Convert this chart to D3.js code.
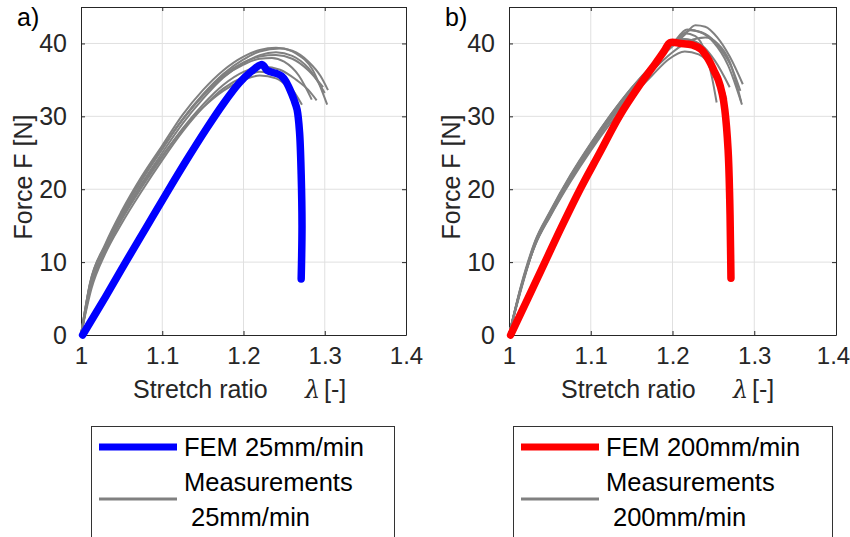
<!DOCTYPE html>
<html>
<head>
<meta charset="utf-8">
<script src="https://d3js.org/d3.v7.min.js"></script>
<style>
  body { margin: 0; background: #fff; }
  svg { display: block; font-family: "Liberation Sans", Arial, sans-serif; }
</style>
</head>
<body>
<div id="chart"></div>
<script>
// tick values shared by both panels
const xTicks = [1, 1.1, 1.2, 1.3, 1.4];
const yTicks = [0, 10, 20, 30, 40];

// FEM simulation, 25 mm/min  [stretch ratio, force N]
const fem25 = [
  [1.002, 0], [1.03, 5.2], [1.055, 10], [1.08, 14.7], [1.105, 19.4], [1.13, 24.0],
  [1.155, 28.4], [1.175, 31.7], [1.195, 34.6], [1.21, 36.2], [1.223, 37.1], [1.229, 36.3],
  [1.24, 35.9], [1.247, 35.5], [1.252, 34.8], [1.257, 33.7], [1.262, 32.3], [1.266, 30.9],
  [1.269, 27.8], [1.271, 22.0], [1.272, 15.0], [1.271, 7.7]
];

// measurements, 25 mm/min
const meas25 = [
  [[1, 0], [1.011, 7], [1.03, 12.5], [1.05, 17], [1.075, 21.8], [1.10, 26], [1.125, 30.2], [1.15, 33.6], [1.175, 36.3], [1.20, 38.2], [1.22, 39.1], [1.24, 39.4], [1.26, 39.0], [1.28, 37.5], [1.295, 35.5], [1.304, 33.6]],
  [[1, 0], [1.012, 6.8], [1.03, 12.0], [1.05, 16.5], [1.075, 21.3], [1.10, 25.5], [1.125, 29.6], [1.15, 33.0], [1.175, 35.8], [1.20, 37.8], [1.22, 38.9], [1.245, 39.3], [1.265, 38.6], [1.285, 36.4], [1.303, 31.6]],
  [[1, 0], [1.012, 6.5], [1.03, 11.6], [1.05, 16.0], [1.075, 20.8], [1.10, 25.0], [1.125, 29.0], [1.15, 32.4], [1.175, 35.3], [1.20, 37.3], [1.22, 38.4], [1.24, 38.8], [1.26, 38.3], [1.28, 36.6], [1.30, 33.2]],
  [[1, 0], [1.011, 6.9], [1.03, 12.1], [1.05, 16.6], [1.075, 21.3], [1.10, 25.6], [1.125, 29.5], [1.15, 32.8], [1.175, 35.4], [1.20, 37.1], [1.22, 37.9], [1.235, 38.0], [1.25, 37.5], [1.268, 35.6], [1.284, 32.3]],
  [[1, 0], [1.012, 6.6], [1.03, 11.5], [1.05, 15.8], [1.075, 20.3], [1.10, 24.4], [1.125, 28.3], [1.15, 31.6], [1.175, 34.3], [1.20, 36.1], [1.225, 36.8], [1.245, 36.4], [1.265, 35.0], [1.28, 33.6], [1.29, 32.2]],
  [[1, 0], [1.013, 6.4], [1.03, 11.2], [1.05, 15.3], [1.075, 19.8], [1.10, 24.0], [1.125, 27.9], [1.15, 31.2], [1.175, 33.8], [1.20, 35.4], [1.22, 36.1], [1.24, 35.7], [1.258, 34.0], [1.272, 31.6]],
  [[1, 0], [1.012, 6.7], [1.03, 11.8], [1.05, 16.2], [1.075, 20.7], [1.10, 24.6], [1.125, 28.2], [1.15, 31.2], [1.175, 33.5], [1.20, 35.0], [1.22, 35.6], [1.24, 35.2], [1.255, 33.9], [1.265, 32.4]],
  [[1, 0], [1.011, 7.1], [1.03, 12.3], [1.05, 16.7], [1.075, 21.5], [1.10, 25.7], [1.125, 29.6], [1.15, 32.9], [1.175, 35.6], [1.20, 37.4], [1.22, 38.2], [1.24, 38.4], [1.26, 37.9], [1.28, 36.3], [1.298, 34.0]]
];

// FEM simulation, 200 mm/min
const fem200 = [
  [1.002, 0], [1.023, 5], [1.044, 10], [1.065, 15], [1.087, 20], [1.111, 25], [1.135, 30],
  [1.16, 34.3], [1.18, 37.4], [1.19, 39.0], [1.197, 40.1], [1.21, 40.0], [1.224, 39.8],
  [1.235, 39.2], [1.244, 37.8], [1.251, 36.2], [1.256, 35.0], [1.261, 33.0], [1.264, 30.9],
  [1.268, 25.4], [1.270, 18.6], [1.271, 12.0], [1.2715, 7.8]
];

// measurements, 200 mm/min
const meas200 = [
  [[1, 0], [1.016, 7], [1.032, 12.8], [1.05, 16.8], [1.075, 21.8], [1.10, 26.2], [1.125, 30.3], [1.15, 33.9], [1.175, 37.0], [1.20, 39.6], [1.215, 41.2], [1.228, 42.5], [1.24, 42.3], [1.255, 40.8], [1.27, 38.2], [1.286, 34.4]],
  [[1, 0], [1.015, 6.8], [1.032, 12.6], [1.05, 16.5], [1.075, 21.4], [1.10, 25.8], [1.125, 29.9], [1.15, 33.5], [1.175, 36.7], [1.20, 39.9], [1.218, 41.9], [1.235, 41.5], [1.25, 40.2], [1.268, 37.0], [1.285, 31.6]],
  [[1, 0], [1.015, 6.9], [1.032, 12.9], [1.05, 16.9], [1.075, 21.9], [1.10, 26.3], [1.125, 30.3], [1.15, 33.9], [1.175, 37.0], [1.20, 40.0], [1.215, 41.4], [1.228, 41.0], [1.24, 38.8], [1.248, 35.5], [1.254, 31.9]],
  [[1, 0], [1.015, 6.5], [1.032, 12.4], [1.05, 16.3], [1.075, 21.2], [1.10, 25.6], [1.125, 29.6], [1.15, 33.1], [1.175, 36.2], [1.20, 38.8], [1.22, 40.3], [1.24, 40.8], [1.255, 40.0], [1.27, 37.5], [1.284, 32.0]],
  [[1, 0], [1.016, 6.7], [1.032, 12.5], [1.05, 16.5], [1.075, 21.5], [1.10, 26.0], [1.125, 30.0], [1.15, 33.6], [1.175, 36.7], [1.195, 39.4], [1.21, 40.6], [1.228, 40.2], [1.245, 38.0], [1.258, 35.0], [1.266, 32.3]],
  [[1, 0], [1.015, 6.6], [1.032, 12.3], [1.05, 16.2], [1.075, 21.0], [1.10, 25.3], [1.125, 29.2], [1.15, 32.7], [1.175, 35.6], [1.195, 37.8], [1.215, 38.9], [1.232, 38.5], [1.248, 36.6], [1.26, 33.2]],
  [[1, 0], [1.016, 6.9], [1.032, 12.7], [1.05, 16.7], [1.075, 21.7], [1.10, 26.1], [1.125, 30.1], [1.15, 33.7], [1.175, 36.9], [1.20, 39.8], [1.222, 41.8], [1.24, 41.3], [1.258, 39.4], [1.272, 36.8], [1.283, 33.5]],
  [[1, 0], [1.015, 6.6], [1.032, 12.4], [1.05, 16.4], [1.075, 21.3], [1.10, 25.7], [1.125, 29.8], [1.15, 33.4], [1.175, 36.6], [1.20, 40.2], [1.215, 40.6], [1.235, 39.8], [1.252, 37.6], [1.27, 34.0]]
];

const panels = [
  { tag: "a)", fem: fem25, meas: meas25, color: "#0000ff", femLabel: "FEM 25mm/min", measLabel: "25mm/min",
    left: 81, right: 406, legLeft: 91, legRight: 394 },
  { tag: "b)", fem: fem200, meas: meas200, color: "#ff0000", femLabel: "FEM 200mm/min", measLabel: "200mm/min",
    left: 509, right: 836, legLeft: 513, legRight: 832 }
];

const W = 850, H = 537;
const plotTop = 7, plotBottom = 335;
const axisColor = "#262626";
const fontSize = 25;

const svg = d3.select("#chart").append("svg")
  .attr("width", W)
  .attr("height", H);

panels.forEach(p => {
  const x = d3.scaleLinear().domain([1, 1.4]).range([p.left, p.right]);
  const y = d3.scaleLinear().domain([0, 45]).range([plotBottom, plotTop]);
  const g = svg.append("g");

  // grid
  g.append("g").selectAll("line").data(xTicks.slice(1, -1)).join("line")
    .attr("x1", d => x(d)).attr("x2", d => x(d))
    .attr("y1", plotTop).attr("y2", plotBottom)
    .attr("stroke", "#e0e0e0").attr("stroke-width", 1);
  g.append("g").selectAll("line").data(yTicks.slice(1)).join("line")
    .attr("x1", p.left).attr("x2", p.right)
    .attr("y1", d => y(d)).attr("y2", d => y(d))
    .attr("stroke", "#e0e0e0").attr("stroke-width", 1);

  // axes with inward ticks, box on all four sides
  const axes = [
    { a: d3.axisBottom(x).tickValues(xTicks).tickFormat(d3.format("")).tickSizeInner(-4).tickSizeOuter(0).tickPadding(12), t: `translate(0,${plotBottom})`, labels: true, fs: 24 },
    { a: d3.axisTop(x).tickValues(xTicks).tickSizeInner(-4).tickSizeOuter(0), t: `translate(0,${plotTop})`, labels: false },
    { a: d3.axisLeft(y).tickValues(yTicks).tickSizeInner(-4).tickSizeOuter(0).tickPadding(14), t: `translate(${p.left},0)`, labels: true, fs: 25 },
    { a: d3.axisRight(y).tickValues(yTicks).tickSizeInner(-4).tickSizeOuter(0), t: `translate(${p.right},0)`, labels: false }
  ];
  axes.forEach(ax => {
    const ag = g.append("g").attr("transform", ax.t).call(ax.a);
    ag.select(".domain").attr("stroke", axisColor);
    ag.selectAll(".tick line").attr("stroke", axisColor);
    if (!ax.labels) { ag.selectAll("text").remove(); return; }
    ag.selectAll("text")
      .attr("fill", axisColor)
      .style("font-size", ax.fs + "px")
      .style("font-family", "'Liberation Sans', Arial, sans-serif");
  });
  // keep the last x label inside the page
  if (p.right > W - 20) {
    g.selectAll(".tick text").filter(d => d === 1.4).attr("dx", -3);
  }

  // data
  const line = d3.line().x(d => x(d[0])).y(d => y(d[1]));
  g.append("g").selectAll("path").data(p.meas).join("path")
    .attr("d", line.curve(d3.curveMonotoneX))
    .attr("fill", "none")
    .attr("stroke", "#808080")
    .attr("stroke-width", 2);
  g.append("path")
    .attr("d", d3.line().x(d => x(d[0])).y(d => y(d[1])).curve(d3.curveCatmullRom.alpha(0.5))(p.fem))
    .attr("fill", "none")
    .attr("stroke", p.color)
    .attr("stroke-width", 7.5)
    .attr("stroke-linejoin", "round")
    .attr("stroke-linecap", "round");

  // panel tag
  g.append("text")
    .attr("x", p.left - 64).attr("y", 26)
    .style("font-size", fontSize + "px")
    .attr("fill", "#000")
    .text(p.tag);

  // axis labels
  const xl = g.append("text")
    .attr("y", 398)
    .style("font-size", fontSize + "px")
    .attr("fill", axisColor);
  xl.append("tspan").attr("x", p.left + 52).text("Stretch ratio");
  xl.append("tspan").attr("x", p.left + 224)
    .style("font-family", "'DejaVu Serif', 'Liberation Serif', serif")
    .style("font-style", "italic")
    .style("font-size", "24px")
    .text("λ");
  xl.append("tspan").attr("x", p.left + 243).text("[-]");

  g.append("text")
    .attr("transform", `translate(${p.left - 49},${177}) rotate(-90)`)
    .attr("text-anchor", "middle")
    .style("font-size", fontSize + "px")
    .attr("fill", axisColor)
    .text("Force F [N]");

  // legend
  const lg = g.append("g");
  lg.append("rect")
    .attr("x", p.legLeft + 0.5).attr("y", 426.5)
    .attr("width", p.legRight - p.legLeft).attr("height", 130)
    .attr("fill", "#fff").attr("stroke", "#333").attr("stroke-width", 1);
  lg.append("line")
    .attr("x1", p.legLeft + 8).attr("x2", p.legLeft + 86)
    .attr("y1", 447).attr("y2", 447)
    .attr("stroke", p.color).attr("stroke-width", 7);
  lg.append("line")
    .attr("x1", p.legLeft + 8).attr("x2", p.legLeft + 86)
    .attr("y1", 499).attr("y2", 499)
    .attr("stroke", "#808080").attr("stroke-width", 3);
  const legFs = "25.5px";
  lg.append("text").attr("x", p.legLeft + 93).attr("y", 456)
    .style("font-size", legFs).attr("fill", "#000").text(p.femLabel);
  lg.append("text").attr("x", p.legLeft + 93).attr("y", 491)
    .style("font-size", legFs).attr("fill", "#000").text("Measurements");
  lg.append("text").attr("x", p.legLeft + 100).attr("y", 526)
    .style("font-size", legFs).attr("fill", "#000").text(p.measLabel);
});
</script>
</body>
</html>
